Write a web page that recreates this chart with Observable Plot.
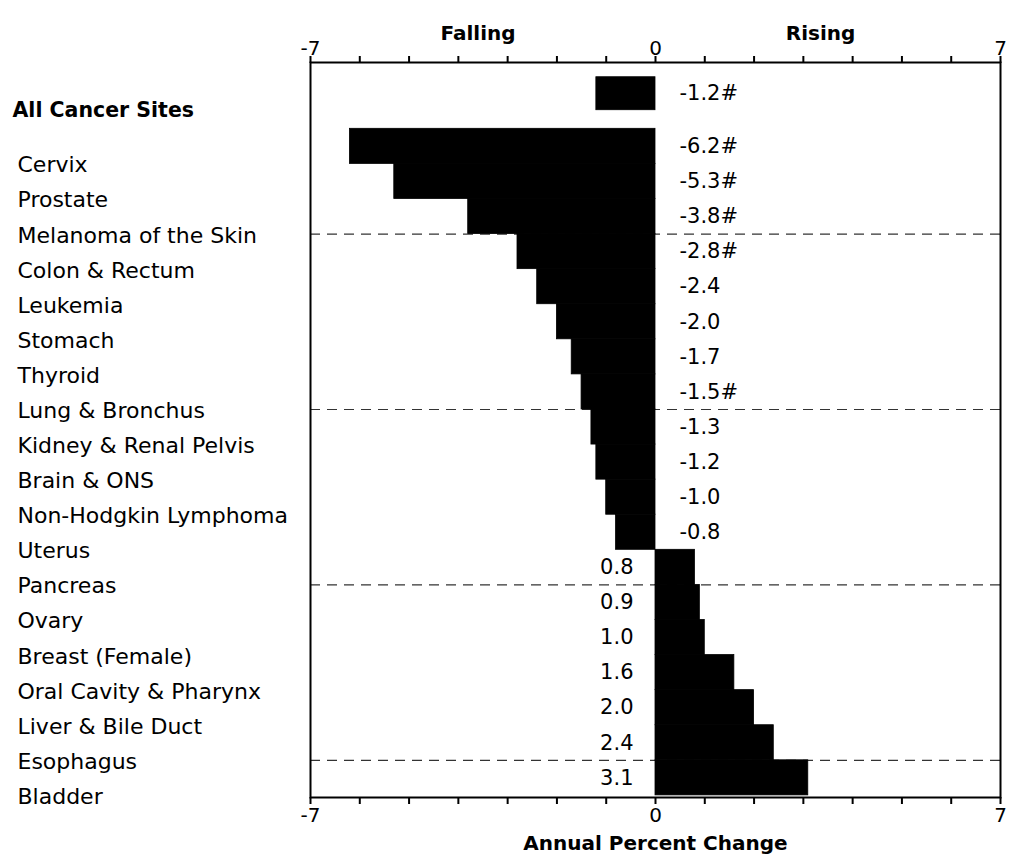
<!DOCTYPE html>
<html><head><meta charset="utf-8">
<script src="https://cdn.jsdelivr.net/npm/d3@7"></script>
<script src="https://cdn.jsdelivr.net/npm/@observablehq/plot@0.6"></script>
<style>
body{margin:0;background:#fff;}
#chart svg{display:block;}
</style></head><body><div id="chart"></div>
<script>
// ---- data ----
const overallLabel = "All Cancer Sites";
const overallValue = -1.2;
const overallSig = true;
const sites = ["Cervix","Prostate","Melanoma of the Skin","Colon & Rectum","Leukemia","Stomach","Thyroid","Lung & Bronchus","Kidney & Renal Pelvis","Brain & ONS","Non-Hodgkin Lymphoma","Uterus","Pancreas","Ovary","Breast (Female)","Oral Cavity & Pharynx","Liver & Bile Duct","Esophagus","Bladder"];
const apc = [-6.2,-5.3,-3.8,-2.8,-2.4,-2.0,-1.7,-1.5,-1.3,-1.2,-1.0,-0.8,0.8,0.9,1.0,1.6,2.0,2.4,3.1];
const significant = [true,true,true,true,false,false,false,true,false,false,false,false,false,false,false,false,false,false,false];
const separatorAfter = ["Melanoma of the Skin","Lung & Bronchus","Pancreas","Esophagus"];
const xTicks = d3.range(-7, 8);
const xTickLabels = [-7, 0, 7];
const headerLabels = ["Falling","Rising"];
const headerX = [-3.6, 3.35];
const xTitle = "Annual Percent Change";

// ---- rows ----
const fmt = (v, s) => v.toFixed(1) + (s ? "#" : "");
const rows = [{label: overallLabel, value: overallValue, pos: -1.5, half: 0.47, overall: true, lab: fmt(overallValue, overallSig)}]
  .concat(sites.map((s, i) => ({label: s, value: apc[i], pos: i, half: 0.5, overall: false, lab: fmt(apc[i], significant[i])})));
const seps = separatorAfter.map(s => ({pos: sites.indexOf(s) + 0.5}));
const headers = headerLabels.map((t, i) => ({text: t, x: headerX[i]}));

const W = 1012, H = 865;
const chart = Plot.plot({
  width: W, height: H,
  marginTop: 62, marginBottom: 68, marginLeft: 310, marginRight: 12,
  style: {fontFamily: "DejaVu Sans", fontSize: "20px", color: "black", background: "white"},
  x: {domain: [-7, 7]},
  y: {domain: [-2.39, 18.56], reverse: true, axis: null},
  marks: [
    Plot.ruleY(seps, {y: "pos", stroke: "#333", strokeWidth: 1.2, strokeDasharray: "10,7"}),
    Plot.rect(rows, {x1: d => 0, x2: "value", y1: d => d.pos - d.half, y2: d => d.pos + d.half, fill: "black", stroke: "black", strokeWidth: 0.8}),
    Plot.frame({stroke: "black", strokeWidth: 2}),
    Plot.axisX({anchor: "top", ticks: xTicks, tickFormat: d => xTickLabels.includes(d) ? String(d) : "", tickSize: 7, tickPadding: 1, fontSize: 20, strokeWidth: 2, label: null}),
    Plot.axisX({anchor: "bottom", ticks: xTicks, tickFormat: d => xTickLabels.includes(d) ? String(d) : "", tickSize: 7, tickPadding: 3, fontSize: 20, strokeWidth: 2, label: null}),
    Plot.text(rows.filter(d => d.overall), {y: "pos", text: "label", frameAnchor: "left", textAnchor: "start", dx: -298, dy: 17, fontSize: 20.5, fontWeight: "bold"}),
    Plot.text(rows.filter(d => !d.overall), {y: "pos", text: "label", frameAnchor: "left", textAnchor: "start", dx: -293, dy: 19, fontSize: 22}),
    Plot.text(rows.filter(d => d.value < 0), {x: d => 0, y: "pos", text: "lab", textAnchor: "start", dx: 24, fontSize: 21}),
    Plot.text(rows.filter(d => d.value >= 0), {x: d => 0, y: "pos", text: "lab", textAnchor: "end", dx: -22, fontSize: 21}),
    Plot.text(headers, {x: "x", text: "text", frameAnchor: "top", dy: -37, fontSize: 20, fontWeight: "bold"}),
    Plot.text([xTitle], {x: d => 0, text: d => d, frameAnchor: "bottom", dy: 52, fontSize: 20, fontWeight: "bold"})
  ]
});
document.getElementById("chart").appendChild(chart);
</script></body></html>
